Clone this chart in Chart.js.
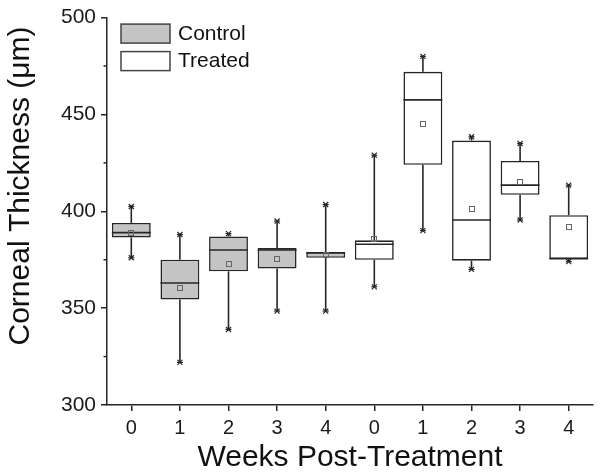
<!DOCTYPE html>
<html>
<head>
<meta charset="utf-8">
<script src="https://cdn.jsdelivr.net/npm/chart.js@4.4.1/dist/chart.umd.min.js"></script>
<style>
  body { margin: 0; background: #fff; }
  #wrap { width: 600px; height: 476px; }
</style>
</head>
<body>
<div id="wrap"><canvas id="myChart" width="600" height="476"></canvas></div>
<script>
// tick labels on the x axis (weeks), 5 control + 5 treated
var weekLabels = ['0', '1', '2', '3', '4', '0', '1', '2', '3', '4'];
var groupNames = ['Control', 'Treated'];
var groupOf = [0, 0, 0, 0, 0, 1, 1, 1, 1, 1];

// box statistics (µm)
var minVals    = [376, 322, 339, 348.5, 348.5, 361, 390, 370, 395.5, 374];
var q1Vals     = [386.5, 354.5, 369, 370.5, 376, 375, 424, 374.5, 408.5, 375.5];
var medianVals = [389, 363, 380, 380, 378.5, 383, 457.5, 395.5, 413.5, 375.5];
var q3Vals     = [394, 375, 387, 381, 379, 385, 472, 436.5, 426, 398];
var maxVals    = [402.5, 388, 388.5, 395, 403.5, 429, 480, 438.5, 435, 413.5];
var meanVals   = [389, 360.5, 373, 375.5, 377.5, 385.5, 445, 401, 415, 392];

var yTicks = [300, 350, 400, 450, 500];
var yMinorTicks = [325, 375, 425, 475];
var yTitle = 'Corneal Thickness (\u03bcm)';

var groupFill = ['#c4c4c4', '#ffffff'];
var ink = '#262626';
var fontFam = '"Liberation Sans", Arial, sans-serif';

var line = (ctx, x1, y1, x2, y2) => {
    ctx.beginPath();
    ctx.moveTo(x1, y1);
    ctx.lineTo(x2, y2);
    ctx.stroke();
};

var boxExtras = {
    id: 'boxExtras',
    afterDatasetsDraw(chart) {
        var ctx = chart.ctx;
        var y = chart.scales.y;
        var meta = chart.getDatasetMeta(0);
        ctx.save();
        ctx.strokeStyle = ink;
        ctx.lineWidth = 1.6;
        weekLabels.forEach((lab, i) => {
            var bar = meta.data[i];
            var cx = bar.x;
            var half = bar.width / 2;
            var yMax = y.getPixelForValue(maxVals[i]);
            var yMin = y.getPixelForValue(minVals[i]);
            // whiskers
            line(ctx, cx, y.getPixelForValue(q3Vals[i]), cx, yMax);
            line(ctx, cx, y.getPixelForValue(q1Vals[i]), cx, yMin);
            // median
            var ym = y.getPixelForValue(medianVals[i]);
            line(ctx, cx - half, ym, cx + half, ym);
            // min / max markers
            ctx.lineWidth = 1.2;
            [yMax, yMin].forEach(yy => {
                line(ctx, cx - 3, yy, cx + 3, yy);
                line(ctx, cx - 2.5, yy - 2.5, cx + 2.5, yy + 2.5);
                line(ctx, cx - 2.5, yy + 2.5, cx + 2.5, yy - 2.5);
            });
            // mean square
            ctx.lineWidth = 1;
            ctx.strokeStyle = '#666';
            var yMean = y.getPixelForValue(meanVals[i]);
            ctx.strokeRect(Math.round(cx) - 2.5, Math.round(yMean) - 2.5, 5, 5);
            ctx.strokeStyle = ink;
            ctx.lineWidth = 1.6;
        });

        // minor ticks on the y axis
        ctx.lineWidth = 1.5;
        yMinorTicks.forEach(v => {
            var yy = y.getPixelForValue(v);
            line(ctx, y.right - 3.5, yy, y.right, yy);
        });

        // y axis title, sits a bit above the middle
        ctx.save();
        ctx.translate(21, 186);
        ctx.rotate(-Math.PI / 2);
        ctx.font = '30px ' + fontFam;
        ctx.fillStyle = '#111';
        ctx.textAlign = 'center';
        ctx.textBaseline = 'middle';
        ctx.fillText(yTitle, 0, 0);
        ctx.restore();

        // legend in the top left of the plot
        ctx.font = '21px ' + fontFam;
        ctx.textBaseline = 'middle';
        groupNames.forEach((name, g) => {
            var bx = chart.chartArea.left + 14;
            var by = chart.chartArea.top + 6.5 + g * 27.5;
            ctx.fillStyle = groupFill[g];
            ctx.fillRect(bx, by, 49, 19);
            ctx.lineWidth = 1.5;
            ctx.strokeStyle = '#444';
            ctx.strokeRect(bx, by, 49, 19);
            ctx.fillStyle = '#111';
            ctx.fillText(name, bx + 57, by + 10);
        });
        ctx.restore();
    }
};

var chartEl = document.getElementById('myChart');
var myChart = new Chart(chartEl.getContext('2d'), {
    type: 'bar',
    data: {
        labels: weekLabels,
        datasets: [{
            label: 'box',
            data: weekLabels.map((l, i) => [q1Vals[i], q3Vals[i]]),
            backgroundColor: groupOf.map(g => groupFill[g]),
            borderColor: ink,
            borderWidth: 1.6,
            borderSkipped: false,
            barPercentage: 0.8,
            categoryPercentage: 1.0
        }]
    },
    options: {
        responsive: false,
        animation: false,
        layout: { padding: { top: 13, right: 7, left: 0, bottom: 0 } },
        plugins: { legend: { display: false }, tooltip: { enabled: false } },
        scales: {
            x: {
                type: 'category',
                offset: true,
                afterFit: s => { s.height = 71; },
                grid: { offset: false, drawOnChartArea: false, drawTicks: true, tickLength: 6, color: ink, lineWidth: 1.5 },
                border: { display: true, color: ink, width: 1.5 },
                ticks: { color: '#1a1a1a', font: { family: fontFam, size: 20 }, padding: 5, maxRotation: 0, autoSkip: false },
                title: { display: true, text: 'Weeks Post-Treatment', color: '#111', font: { family: fontFam, size: 30 }, padding: { top: 0, bottom: 0 } }
            },
            y: {
                min: 300,
                max: 500,
                afterFit: s => { s.width = 107; },
                afterBuildTicks: s => { s.ticks = yTicks.map(v => ({ value: v })); },
                grid: { drawOnChartArea: false, drawTicks: true, tickLength: 6, color: ink, lineWidth: 1.5 },
                border: { display: true, color: ink, width: 1.5 },
                ticks: { color: '#1a1a1a', font: { family: fontFam, size: 21 }, padding: 5 },
                title: { display: false }
            }
        }
    },
    plugins: [boxExtras]
});
</script>
</body>
</html>
